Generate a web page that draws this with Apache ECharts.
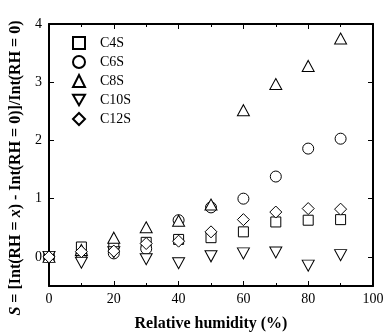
<!DOCTYPE html>
<html>
<head>
<meta charset="utf-8">
<script src="https://cdn.jsdelivr.net/npm/echarts@6/dist/echarts.min.js"></script>
<style>
  html, body { margin: 0; padding: 0; background: #fff; }
  #chart { width: 388px; height: 336px; }
</style>
</head>
<body>
<div id="chart"></div>
<script>
const humidity = [0, 10, 20, 30, 40, 50, 60, 70, 80, 90];
const c4s  = [0, 0.17, 0.16, 0.25, 0.30, 0.33, 0.43, 0.60, 0.63, 0.64];
const c6s  = [0, 0.05, 0.06, 0.14, 0.63, 0.85, 1.00, 1.38, 1.86, 2.03];
const c8s  = [0, 0.12, 0.33, 0.51, 0.62, 0.90, 2.52, 2.97, 3.28, 3.75];
const c10s = [0, -0.10, 0.08, -0.04, -0.11, 0.01, 0.06, 0.075, -0.15, 0.03];
const c12s = [0, 0.09, 0.10, 0.23, 0.27, 0.43, 0.64, 0.77, 0.83, 0.82];

const font = 'Liberation Serif';
const downTri = 'path://M0,0 L10,0 L5,8.66 Z';

const chart = echarts.init(document.getElementById('chart'));

function pairs(ys) {
    return humidity.map(function (x, i) { return [x, ys[i]]; });
}

function makeSeries(name, ys, symbol, size) {
    return {
        name: name,
        type: 'scatter',
        data: pairs(ys),
        symbol: symbol,
        symbolSize: size,
        itemStyle: { color: '#fff', borderColor: '#000', borderWidth: 1, opacity: 1 },
        emphasis: { disabled: true }
    };
}

const axisCommon = {
    type: 'value',
    axisLine: { show: true, onZero: false, lineStyle: { color: '#000', width: 2 } },
    axisTick: { show: true, inside: true, length: 5, lineStyle: { color: '#000' } },
    minorTick: { show: true, splitNumber: 2, length: 3, lineStyle: { color: '#000' } },
    splitLine: { show: false },
    axisLabel: { color: '#000', fontFamily: font, fontSize: 14 }
};

const option = {
    animation: false,
    grid: { left: 49, right: 15, top: 24, bottom: 50, outerBoundsMode: 'none' },
    legend: {
        orient: 'vertical',
        left: 67,
        top: 31,
        itemWidth: 12,
        itemHeight: 12,
        itemGap: 5,
        textStyle: { fontFamily: font, fontSize: 14, color: '#000', padding: [0, 0, 0, 10] },
        data: ['C4S', 'C6S', 'C8S', 'C10S', 'C12S']
    },
    xAxis: [
        Object.assign({}, axisCommon, {
            min: 0, max: 100, interval: 20,
            axisLabel: Object.assign({}, axisCommon.axisLabel, { margin: 6 }),
            name: 'Relative humidity (%)',
            nameLocation: 'middle',
            nameGap: 30,
            nameTextStyle: { fontFamily: font, fontSize: 16, fontWeight: 'bold', color: '#000' }
        }),
        Object.assign({}, axisCommon, {
            position: 'top', min: 0, max: 100, interval: 20,
            axisLabel: { show: false }
        })
    ],
    yAxis: [
        Object.assign({}, axisCommon, {
            min: -0.5, max: 4, interval: 1,
            axisLabel: Object.assign({}, axisCommon.axisLabel, {
                margin: 7,
                customValues: [0, 1, 2, 3, 4]
            }),
            axisTick: Object.assign({}, axisCommon.axisTick, { customValues: [0, 1, 2, 3, 4] }),
            name: '{bi|S} {b|= [Int(RH = }{bi|x}{b|) - Int(RH = 0)]/Int(RH = 0)}',
            nameLocation: 'middle',
            nameGap: 9,
            nameRotate: 90,
            nameTextStyle: {
                fontFamily: font, fontSize: 16, fontWeight: 'bold', color: '#000',
                padding: [0, 26, 0, 0],
                rich: {
                    b: { fontFamily: font, fontSize: 16, fontWeight: 'bold', color: '#000' },
                    bi: { fontFamily: font, fontSize: 16, fontWeight: 'bold', fontStyle: 'italic', color: '#000' }
                }
            }
        }),
        Object.assign({}, axisCommon, {
            position: 'right', min: -0.5, max: 4, interval: 1,
            axisLabel: { show: false },
            axisTick: Object.assign({}, axisCommon.axisTick, { customValues: [0, 1, 2, 3, 4] })
        })
    ],
    series: [
        makeSeries('C4S', c4s, 'rect', 10),
        makeSeries('C6S', c6s, 'circle', 11),
        makeSeries('C8S', c8s, 'triangle', [12, 11]),
        makeSeries('C10S', c10s, downTri, [12, 11]),
        makeSeries('C12S', c12s, 'diamond', 12)
    ]
};

chart.setOption(option);
</script>
</body>
</html>
